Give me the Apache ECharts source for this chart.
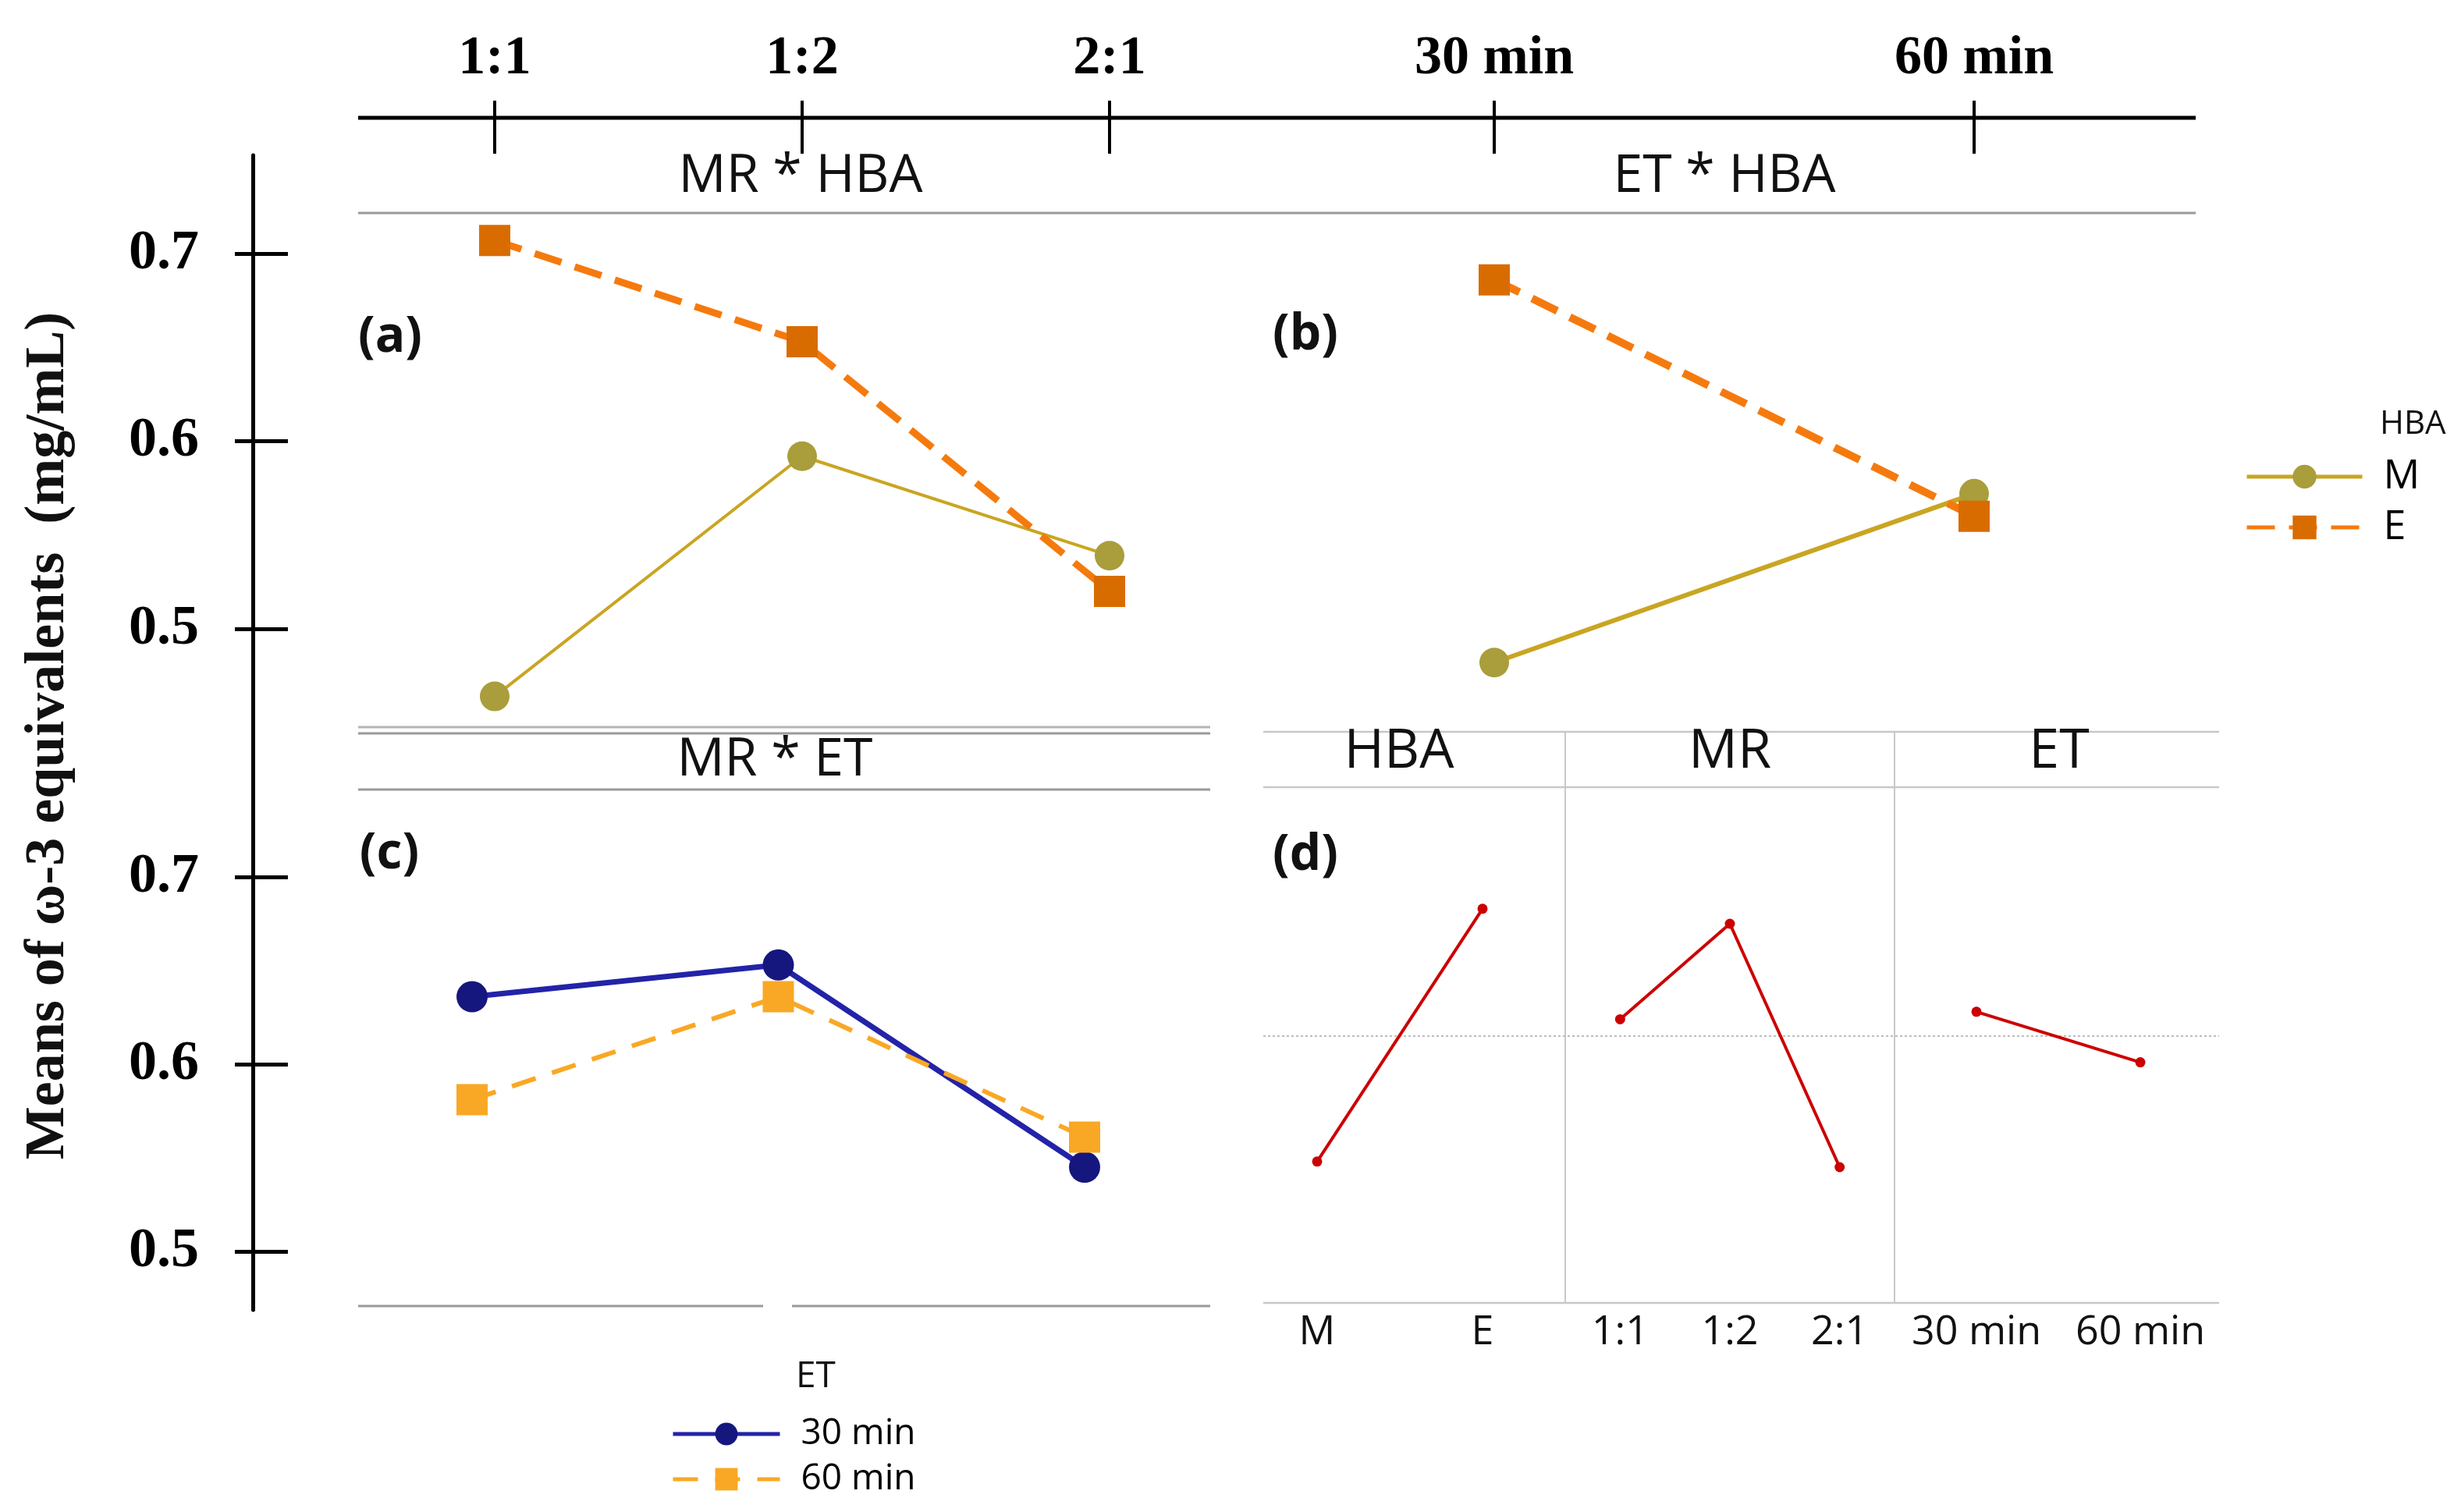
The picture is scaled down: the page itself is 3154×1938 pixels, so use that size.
<!DOCTYPE html>
<html>
<head>
<meta charset="utf-8">
<title>Interaction plots</title>
<script src="https://cdn.jsdelivr.net/npm/echarts@6/dist/echarts.min.js"></script>
<style>
  html, body { margin: 0; padding: 0; background: #fff; }
  #main { width: 3154px; height: 1938px; }
</style>
</head>
<body>
<div id="main"></div>
<script>
// categories
var mrCats = ['1:1', '1:2', '2:1'];
var etCats = ['30 min', '60 min'];
var hbaCats = ['M', 'E'];
var yTicks = [0.5, 0.6, 0.7];

// (a) MR * HBA
var aM = [0.464, 0.592, 0.539];
var aE = [0.707, 0.653, 0.520];
// (b) ET * HBA
var bM = [0.482, 0.572];
var bE = [0.686, 0.560];
// (c) MR * ET
var c30 = [0.636, 0.653, 0.545];
var c60 = [0.581, 0.636, 0.561];
// (d) main effects
var dHBA = [0.548, 0.683];
var dMR = [0.624, 0.675, 0.545];
var dET = [0.628, 0.601];
var dMean = 0.615;

var serif = 'Liberation Serif';
var sans = 'Open Sans';
var olive = '#A99D3C', gold = '#C9A522';
var orangeDot = '#D96C00', orangeLine = '#F57A0E';
var navy = '#16167F', navyLine = '#2323A8';
var amber = '#F9A825';
var red = '#CC0000';
var gray = '#9a9a9a', lightGray = '#c8c8c8';

var chart = echarts.init(document.getElementById('main'));

// top category axis (ticks cross the drawn line)
function topAxis(grid, cats) {
  return {
    type: 'category', gridIndex: grid, data: cats, boundaryGap: false,
    position: 'top', offset: 2,
    axisLine: { show: false },
    axisTick: { length: 68, lineStyle: { color: '#000', width: 4 } },
    axisLabel: { interval: 0, margin: 86, fontFamily: serif, fontWeight: 'bold', fontSize: 70, color: '#000' }
  };
}
function leftAxis(grid, min, max, offset) {
  return {
    type: 'value', gridIndex: grid, min: min, max: max, position: 'left', offset: offset,
    splitLine: { show: false },
    axisLine: { show: true, lineStyle: { color: '#000', width: 5 } },
    axisTick: { show: true, customValues: yTicks, length: 23, lineStyle: { color: '#000', width: 5 } },
    axisLabel: { customValues: yTicks, margin: 69, fontFamily: serif, fontWeight: 'bold', fontSize: 72, color: '#000',
      formatter: function (v) { return v.toFixed(1); } }
  };
}
function innerTicks(grid, min, max, offset) {
  return {
    type: 'value', gridIndex: grid, min: min, max: max, position: 'left', offset: offset,
    splitLine: { show: false }, axisLine: { show: false }, axisLabel: { show: false },
    axisTick: { show: true, inside: true, customValues: yTicks, length: 45, lineStyle: { color: '#000', width: 5 } }
  };
}
function hiddenY(grid, min, max) {
  return { type: 'value', gridIndex: grid, min: min, max: max, show: false };
}
function dAxis(grid, cats) {
  return {
    type: 'category', gridIndex: grid, data: cats, boundaryGap: true, position: 'bottom',
    axisLine: { show: false },
    axisTick: { alignWithLabel: true, length: 6, lineStyle: { color: '#bbb', width: 2 } },
    axisLabel: { interval: 0, margin: 12, fontFamily: sans, fontSize: 52, color: '#111' }
  };
}
function mkLine(grid, name, data, symbol, size, dot, line, width, dash) {
  return {
    type: 'line', name: name, xAxisIndex: grid, yAxisIndex: yIdx[grid], data: data,
    symbol: symbol, symbolSize: size, showSymbol: true,
    itemStyle: { color: dot },
    lineStyle: { color: line, width: width, type: dash || 'solid' },
    z: symbol === 'rect' ? 3 : 2
  };
}
function dSeries(grid, data) {
  return {
    type: 'line', xAxisIndex: grid, yAxisIndex: yIdx[grid], data: data,
    symbol: 'circle', symbolSize: 13,
    itemStyle: { color: red }, lineStyle: { color: red, width: 4 }, z: 3
  };
}

// y ranges matching the picture's scale
var abMin = 0.44844, abMax = 0.75239;
var cMin = 0.46875, cMax = 0.78083;
var dMin = 0.4725, dMax = 0.74792;

var yIdx = [0, 2, 3, 5, 6, 7];

function txt(x, y, s, font, align, rot) {
  return { type: 'text', x: x, y: y, rotation: rot || 0, silent: true,
    style: { text: s, font: font, fill: '#111', align: align || 'center', verticalAlign: 'middle' } };
}
function ln(x1, y1, x2, y2, color, w, dash) {
  return { type: 'line', silent: true, shape: { x1: x1, y1: y1, x2: x2, y2: y2 },
    style: { stroke: color, lineWidth: w, lineDash: dash || null } };
}

var legendText = { fontFamily: sans, color: '#000', padding: [0, 0, 0, 22] };

var option = {
  backgroundColor: '#fff',
  animation: false,
  grid: [
    { left: 634, top: 199, width: 788, height: 731 },   // (a)
    { left: 1915, top: 199, width: 615, height: 731 },  // (b)
    { left: 605, top: 930, width: 785, height: 749 },   // (c)
    { left: 1582, top: 1009, width: 424, height: 661 }, // (d) HBA
    { left: 2006, top: 1009, width: 422, height: 661 }, // (d) MR
    { left: 2428, top: 1009, width: 420, height: 661 }  // (d) ET
  ],
  xAxis: [
    topAxis(0, mrCats),
    topAxis(1, etCats),
    { type: 'category', gridIndex: 2, data: mrCats, boundaryGap: false, show: false },
    dAxis(3, hbaCats),
    dAxis(4, mrCats),
    dAxis(5, etCats)
  ],
  yAxis: [
    leftAxis(0, abMin, abMax, 310),
    innerTicks(0, abMin, abMax, 310),
    hiddenY(1, abMin, abMax),
    leftAxis(2, cMin, cMax, 281),
    innerTicks(2, cMin, cMax, 281),
    hiddenY(3, dMin, dMax),
    hiddenY(4, dMin, dMax),
    hiddenY(5, dMin, dMax)
  ],
  legend: [
    { data: ['M', 'E'], orient: 'vertical', left: 2872, top: 580, height: 200,
      itemWidth: 148, itemHeight: 38, itemGap: 13, lineStyle: { width: 5 },
      textStyle: Object.assign({ fontSize: 52, lineHeight: 38 }, legendText) },
    { data: ['30 min', '60 min'], orient: 'vertical', left: 855, top: 1810, height: 128,
      itemWidth: 137, itemHeight: 36, itemGap: 12, lineStyle: { width: 5 },
      textStyle: Object.assign({ fontSize: 46, lineHeight: 36 }, legendText) }
  ],
  series: [
    mkLine(0, 'M', aM, 'circle', 38, olive, gold, 4),
    mkLine(0, 'E', aE, 'rect', 40, orangeDot, orangeLine, 9, [36, 18]),
    mkLine(1, 'M', bM, 'circle', 38, olive, gold, 6),
    mkLine(1, 'E', bE, 'rect', 40, orangeDot, orangeLine, 10, [36, 18]),
    mkLine(2, '30 min', c30, 'circle', 40, navy, navyLine, 7),
    mkLine(2, '60 min', c60, 'rect', 40, amber, amber, 6, [32, 22]),
    dSeries(3, dHBA),
    dSeries(4, dMR),
    dSeries(5, dET)
  ],
  graphic: [
    // top axis line
    ln(459, 151, 2814, 151, '#000', 5),
    // y axis title
    txt(62, 943, 'Means of \u03c9-3 equivalents  (mg/mL)', 'bold 72px "Liberation Serif"', 'center', Math.PI / 2),
    // strips of (a), (b), (c)
    txt(1026, 227, 'MR * HBA', '68px "Open Sans"'),
    txt(2210, 227, 'ET * HBA', '68px "Open Sans"'),
    txt(993, 975, 'MR * ET', '68px "Open Sans"'),
    ln(459, 273, 2814, 273, gray, 3),
    ln(459, 932, 1551, 932, '#b5b5b5', 3),
    ln(459, 940, 1551, 940, gray, 3),
    ln(459, 1012, 1551, 1012, gray, 3),
    ln(459, 1674, 978, 1674, gray, 3),
    ln(1015, 1674, 1551, 1674, gray, 3),
    // panel tags
    txt(500, 433, '(a)', 'bold 64px "Open Sans"'),
    txt(1673, 430, '(b)', 'bold 64px "Open Sans"'),
    txt(499, 1095, '(c)', 'bold 64px "Open Sans"'),
    txt(1673, 1097, '(d)', 'bold 64px "Open Sans"'),
    // (d) frame
    ln(1619, 938, 2844, 938, lightGray, 2.5),
    ln(1619, 1009, 2844, 1009, lightGray, 2.5),
    ln(1619, 1670, 2844, 1670, lightGray, 2.5),
    ln(2006, 938, 2006, 1670, lightGray, 2),
    ln(2428, 938, 2428, 1670, lightGray, 2),
    txt(1793, 964, 'HBA', '70px "Open Sans"'),
    txt(2217, 964, 'MR', '70px "Open Sans"'),
    txt(2639, 964, 'ET', '70px "Open Sans"'),
    // legend titles
    txt(3050, 544, 'HBA', '42px "Open Sans"', 'left'),
    txt(1020, 1765, 'ET', '46px "Open Sans"', 'left')
  ]
};

chart.setOption(option);

// overall mean reference line across the (d) panel, placed with the (d) y scale
var meanY = chart.convertToPixel({ xAxisIndex: 3, yAxisIndex: 5 }, [0, dMean])[1];
option.graphic.push(ln(1619, meanY, 2844, meanY, '#bdbdbd', 2, [3, 3]));
chart.setOption({ graphic: option.graphic });
</script>
</body>
</html>
